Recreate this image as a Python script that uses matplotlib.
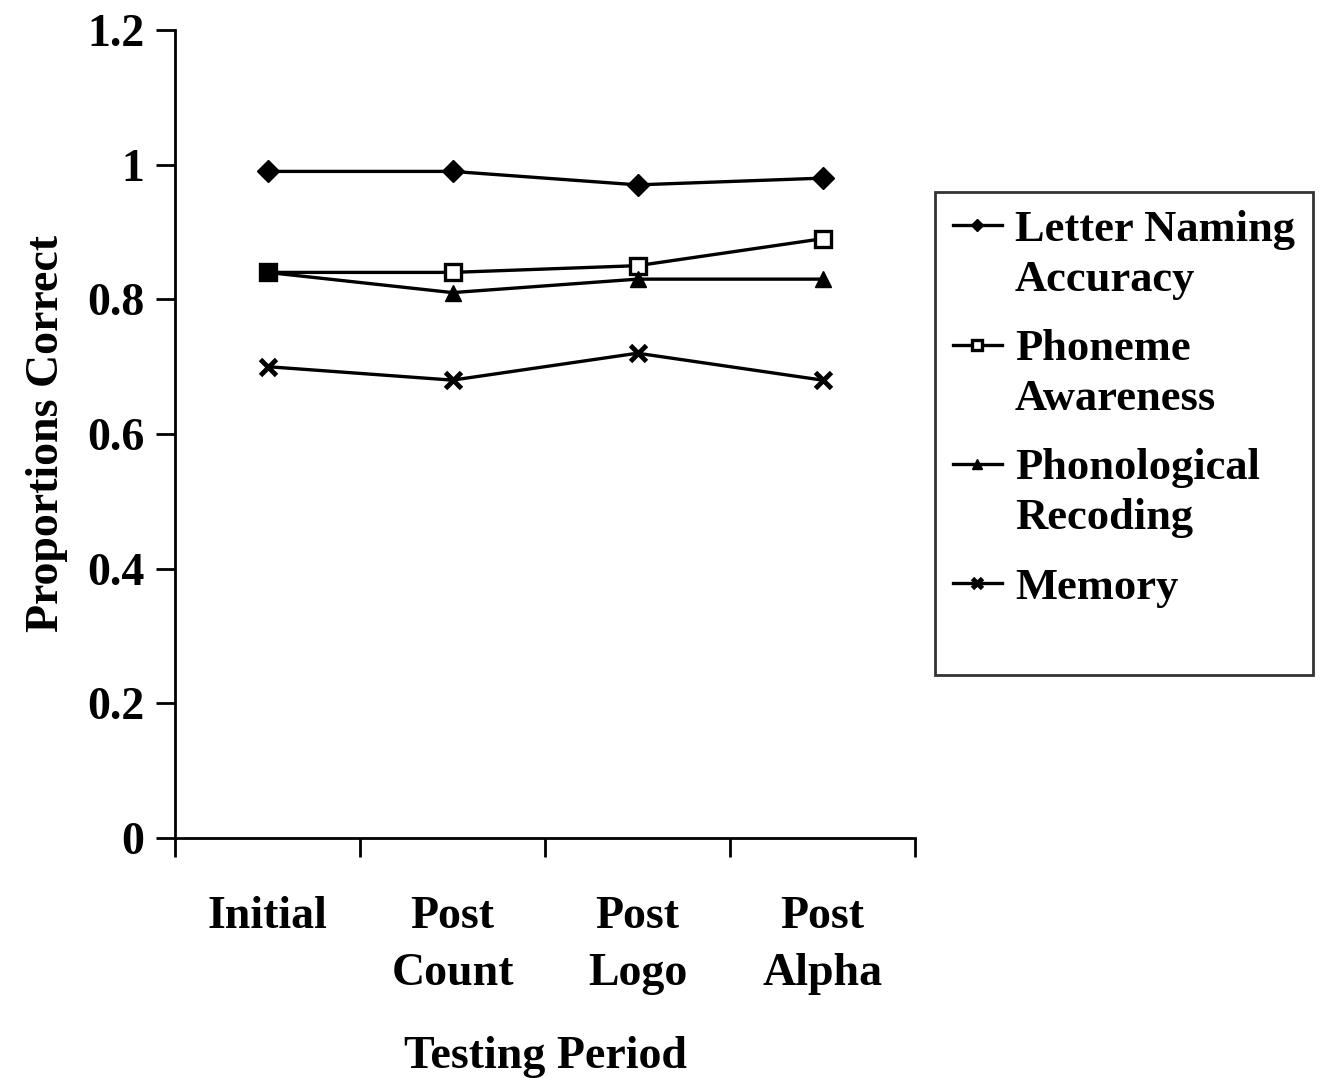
import matplotlib
matplotlib.use("Agg")
import matplotlib.pyplot as plt
from matplotlib.legend_handler import HandlerLine2D
import numpy as np

periods = ["Initial", "Post\nCount", "Post\nLogo", "Post\nAlpha"]
letter_naming = [0.99, 0.99, 0.97, 0.98]
phoneme = [0.84, 0.84, 0.85, 0.89]
phonological = [0.84, 0.81, 0.83, 0.83]
memory = [0.70, 0.68, 0.72, 0.68]


class FirstLineHandler(HandlerLine2D):
    # put the legend line level with the first text line of a 2-line label
    def __init__(self, shift, **kw):
        super().__init__(**kw)
        self.shift = shift

    def create_artists(self, legend, orig_handle, xdescent, ydescent,
                       width, height, fontsize, trans):
        arts = super().create_artists(legend, orig_handle, xdescent, ydescent,
                                      width, height, fontsize, trans)
        for a in arts:
            a.set_ydata(np.asarray(a.get_ydata()) + self.shift)
        return arts


plt.rcParams['font.family'] = ['Liberation Serif', 'DejaVu Serif']
plt.rcParams['font.weight'] = 'bold'

fig = plt.figure(figsize=(13.21, 10.78), dpi=100)
ax = fig.add_axes([175/1321, 1-838/1078, 740/1321, 808/1078])

x = np.arange(len(periods))
ax.plot(x, letter_naming, color='black', lw=2.4, marker='D', ms=11,
        label="Letter Naming\nAccuracy")
ax.plot(x, phoneme, color='black', lw=2.4, marker='s', ms=11, mfc='white',
        mew=2.4, label="Phoneme\nAwareness")
ax.plot(x, phonological, color='black', lw=2.4, marker='^', ms=12,
        label="Phonological\nRecoding")
ax.plot(x, memory, color='black', lw=2.4, marker='x', ms=11, mew=3.5,
        label="Memory\n ")
# the first point of phoneme/phonological overlap as a filled square
ax.plot(x[:1], phonological[:1], color='black', marker='s', ms=11, ls='none')

ax.set_xlim(-0.5, 3.5)
ax.set_ylim(0, 1.2)
ax.set_yticks([0, 0.2, 0.4, 0.6, 0.8, 1.0, 1.2])
ax.set_yticklabels(["0", "0.2", "0.4", "0.6", "0.8", "1", "1.2"])
ax.set_xticks(np.arange(-0.5, 4, 1))
ax.set_xticklabels([])
ax.set_xticks(x, minor=True)
ax.set_xticklabels(periods, minor=True)
ax.tick_params(axis='x', which='major', length=14, width=2, direction='out')
ax.tick_params(axis='x', which='minor', length=0, pad=42, labelsize=33)
ax.tick_params(axis='y', length=14, width=2, direction='out', pad=8, labelsize=33)
for lbl in ax.get_xticklabels(minor=True):
    lbl.set_linespacing(1.45)
    lbl.set_fontweight('bold')
for lbl in ax.get_yticklabels():
    lbl.set_fontweight('bold')

for s in ['top', 'right']:
    ax.spines[s].set_visible(False)
for s in ['left', 'bottom']:
    ax.spines[s].set_linewidth(2)

ax.set_ylabel("Proportions Correct", fontsize=33, fontweight='bold', labelpad=14)
ax.set_xlabel("Testing Period", fontsize=33, fontweight='bold', labelpad=30)

fs = 32
hmap = {h: FirstLineHandler(shift=0.66 * fs, marker_pad=0.3)
        for h in ax.get_lines()[:4]}
leg = fig.legend(handles=ax.get_lines()[:4], loc='upper left',
                 bbox_to_anchor=(935/1321, 1-192/1078), handler_map=hmap,
                 prop={'size': fs, 'weight': 'bold'}, frameon=True,
                 fancybox=False, edgecolor='black', handlelength=1.1,
                 handletextpad=0.3, labelspacing=0.66, borderpad=0.4,
                 markerscale=0.6, borderaxespad=0)
for t in leg.get_texts():
    t.set_linespacing(1.32)
leg.get_frame().set_linewidth(2)

fig.savefig("out.png", dpi=100)
